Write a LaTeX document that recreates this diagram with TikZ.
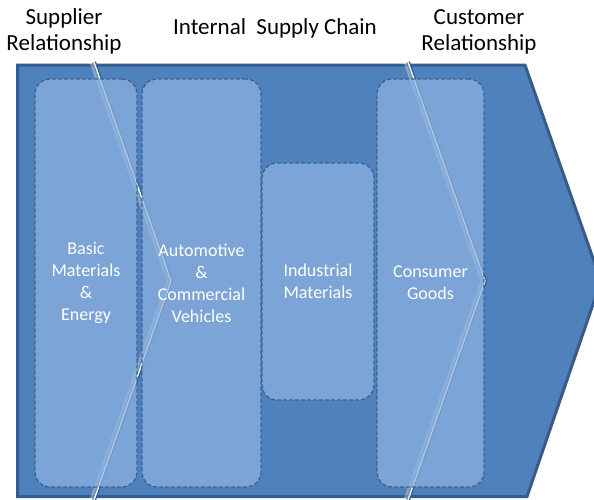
\documentclass[tikz,border=0pt]{standalone}
\usepackage{fontspec}
\setmainfont{Carlito}
\definecolor{mainfill}{HTML}{4F81BD}
\definecolor{mainedge}{HTML}{355C8E}
\definecolor{boxfill}{HTML}{8EB2E1}
\definecolor{boxedge}{HTML}{3A6394}
\tikzset{
  outershape/.style={fill=mainfill, draw=mainedge, line width=3pt, line join=miter},
  sepdark/.style={draw=mainedge, line width=4pt},
  sepband/.style={draw=white, draw opacity=0.3, line width=5pt},
  seplight/.style={draw=white, line width=1.2pt},
  procbox/.style={draw=boxedge, line width=1.3pt, dash pattern=on 4pt off 2pt,
    fill=boxfill, fill opacity=0.72, text opacity=1, rounded corners=15pt,
    text=white, align=center, inner sep=0pt,
    font=\fontsize{18}{22}\selectfont},
  title/.style={text=black, align=center, inner sep=0pt,
    font=\fontsize{23}{26}\selectfont}
}
\begin{document}
\begin{tikzpicture}[x=1pt,y=-1pt]
\useasboundingbox (0,0) rectangle (594,499);
\clip (0,0) rectangle (594,499);
% main chevron body
\draw[outershape] (17.5,65) -- (525,65) -- (601,281) -- (527,496.5) -- (17.5,496.5) -- cycle;
% separators
\draw[sepdark] (94,62) -- (171,281) -- (94,500);
\draw[sepdark] (408,62) -- (485,281) -- (408,500);
\draw[sepband] (92,62) -- (169,281) -- (92,500);
\draw[sepband] (406,62) -- (483,281) -- (406,500);
\draw[seplight] (94,62) -- (171,281) -- (94,500);
\draw[seplight] (408,62) -- (485,281) -- (408,500);
% boxes
\node[procbox, minimum width=102pt, minimum height=408pt] (basic) at (86,283)
  {Basic\\Materials\\\&\\Energy};
\node[procbox, minimum width=119pt, minimum height=408pt] (auto) at (201.5,283)
  {Automotive\\\&\\Commercial\\Vehicles};
\node[procbox, minimum width=112pt, minimum height=237pt] (indus) at (318,281.5)
  {Industrial\\Materials};
\node[procbox, minimum width=107pt, minimum height=408pt] (consumer) at (430.5,283)
  {Consumer\\Goods};
% titles
\node[title] (supplier) at (64,31.5) {Supplier\\Relationship};
\node[title] (internal) at (275,28) {Internal~~Supply Chain};
\node[title] (customer) at (479,31.5) {Customer\\Relationship};
\end{tikzpicture}
\end{document}
